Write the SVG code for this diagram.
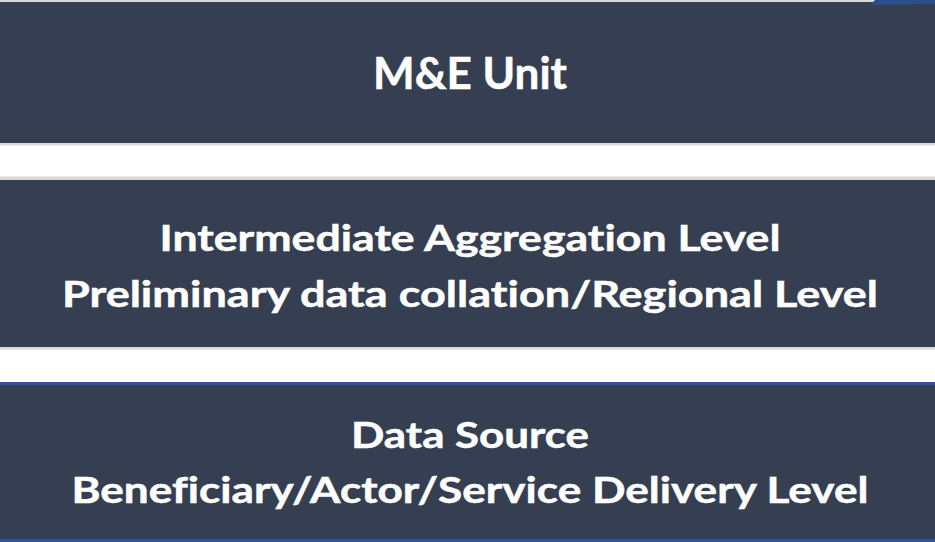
<svg xmlns="http://www.w3.org/2000/svg" width="935" height="542" viewBox="0 0 935 542">
  <style>
    .band { fill: #353f51; }
    .rule { fill: #d9d9d9; }
    .rule-soft { fill: #ececec; }
    .edge { fill: #2f5597; }
    .label { fill: #ffffff; font-family: Lato, "Open Sans", "Liberation Sans", sans-serif; font-weight: 700; text-anchor: middle; font-variant-ligatures: none; font-feature-settings: "liga" 0, "dlig" 0; stroke: #ffffff; stroke-width: 0.5px; }
    .big { font-size: 43px; }
    .mid { font-size: 37px; }
  </style>

  <rect x="0" y="0" width="935" height="542" fill="#ffffff"/>

  <!-- top level -->
  <g id="me-unit">
    <rect class="rule" x="0" y="0" width="935" height="2"/>
    <rect class="band" x="0" y="2" width="935" height="141"/>
    <rect class="rule" x="0" y="143" width="935" height="2"/>
    <rect class="rule-soft" x="0" y="145" width="935" height="1"/>
    <polygon fill="#2b4f8c" points="875,0 935,0 935,4 870,5"/>
    <text class="label big" x="470" y="89" textLength="194" lengthAdjust="spacingAndGlyphs">M&amp;E Unit</text>
  </g>

  <!-- middle level -->
  <g id="intermediate-level">
    <rect class="rule-soft" x="0" y="176" width="935" height="1"/>
    <rect class="rule" x="0" y="177" width="935" height="3"/>
    <rect class="band" x="0" y="180" width="935" height="167"/>
    <rect class="rule" x="0" y="347" width="935" height="2"/>
    <rect class="rule-soft" x="0" y="349" width="935" height="1"/>
    <text class="label mid" x="470" y="251" textLength="621" lengthAdjust="spacingAndGlyphs">Intermediate Aggregation Level</text>
    <text class="label mid" x="470" y="307" textLength="816" lengthAdjust="spacingAndGlyphs">Preliminary data collation/Regional Level</text>
  </g>

  <!-- bottom level -->
  <g id="data-source">
    <rect class="edge" x="0" y="382" width="935" height="3"/>
    <rect class="band" x="0" y="385" width="935" height="154"/>
    <rect class="edge" x="0" y="539" width="935" height="3"/>
    <text class="label mid" x="470" y="448" textLength="238" lengthAdjust="spacingAndGlyphs">Data Source</text>
    <text class="label mid" x="470" y="503" textLength="797" lengthAdjust="spacingAndGlyphs">Beneficiary/Actor/Service Delivery Level</text>
  </g>
</svg>
